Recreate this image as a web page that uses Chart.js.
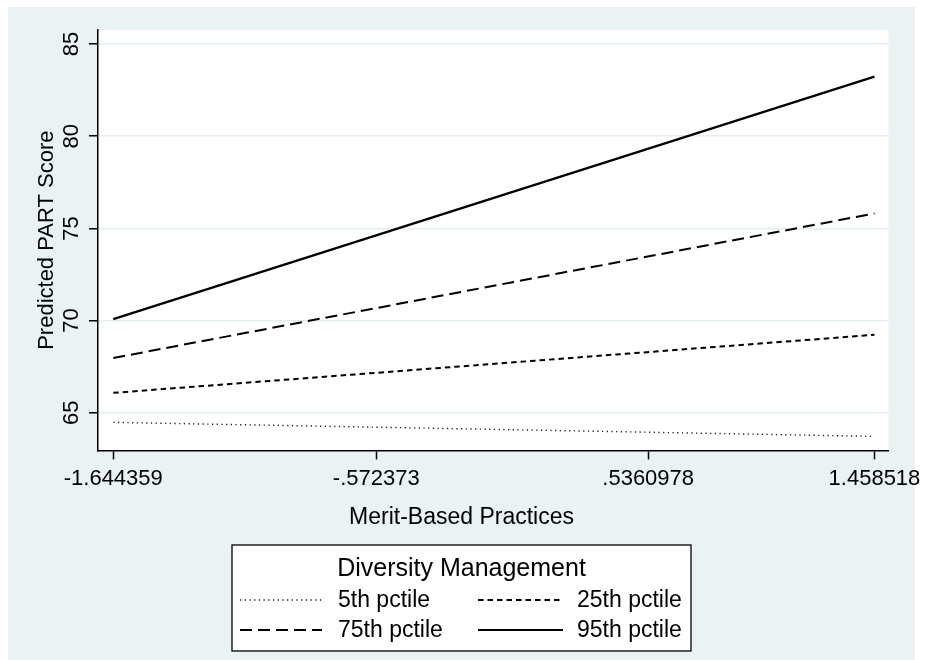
<!DOCTYPE html>
<html>
<head>
<meta charset="utf-8">
<script src="https://cdn.jsdelivr.net/npm/chart.js@4.4.1/dist/chart.umd.min.js"></script>
<style>
  html, body { margin: 0; padding: 0; background: #fff; }
  #wrap { width: 927px; height: 660px; }
</style>
</head>
<body>
<div id="wrap"><canvas id="c" width="927" height="660"></canvas></div>
<script>
// values (margins at the two ends of the x range)
const xValues = [-1.644359, 1.458518];
const xTicks = [-1.644359, -0.572373, 0.5360978, 1.458518];
const xTickLabels = ['-1.644359', '-.572373', '.5360978', '1.458518'];
const yTicks = [65, 70, 75, 80, 85];
const seriesNames = ['5th pctile', '25th pctile', '75th pctile', '95th pctile'];
const p5 = [64.48, 63.72];
const p25 = [66.08, 69.23];
const p75 = [67.97, 75.81];
const p95 = [70.08, 83.23];

const FONT = "'Liberation Sans', Arial, Helvetica, sans-serif";
Chart.defaults.font.family = FONT;
Chart.defaults.color = '#000';

const BG = '#EAF2F3';

function pts(vals) {
    return vals.map((v, i) => ({ x: xValues[i], y: v }));
}

const styles = [
    { borderDash: [1.3, 3.4], borderWidth: 1.4, borderColor: '#222' },
    { borderDash: [5.5, 4], borderWidth: 2, borderColor: '#000' },
    { borderDash: [12, 6], borderWidth: 2, borderColor: '#000' },
    { borderDash: [], borderWidth: 2.2, borderColor: '#000' }
];

const datasets = [p5, p25, p75, p95].map((vals, i) => Object.assign({
    label: seriesNames[i],
    data: pts(vals),
    pointRadius: 0,
    tension: 0,
    fill: false
}, styles[i]));

// graph region + white plot region, Stata s2color style
const bgPlugin = {
    id: 'stataBg',
    beforeDraw(chart) {
        const { ctx, chartArea: a } = chart;
        ctx.save();
        ctx.fillStyle = '#fff';
        ctx.fillRect(0, 0, chart.width, chart.height);
        ctx.fillStyle = BG;
        ctx.fillRect(8, 7, 907, 653);
        ctx.fillStyle = '#fff';
        ctx.fillRect(a.left, a.top, a.right - a.left, a.bottom - a.top);
        ctx.restore();
    }
};

// boxed legend with title, two columns
const keyPlugin = {
    id: 'stataKey',
    afterDraw(chart) {
        const ctx = chart.ctx;
        const box = { left: 232, top: 545, right: 691, bottom: 651 };
        ctx.save();
        ctx.fillStyle = '#fff';
        ctx.fillRect(box.left, box.top, box.right - box.left, box.bottom - box.top);
        ctx.strokeStyle = '#000';
        ctx.lineWidth = 1.3;
        ctx.strokeRect(box.left, box.top, box.right - box.left, box.bottom - box.top);

        ctx.fillStyle = '#000';
        ctx.textBaseline = 'middle';
        ctx.textAlign = 'center';
        ctx.font = '25px ' + FONT;
        ctx.fillText('Diversity Management', (box.left + box.right) / 2, 569);

        ctx.font = '23px ' + FONT;
        ctx.textAlign = 'left';
        chart.data.datasets.forEach((ds, i) => {
            const col = i % 2, row = Math.floor(i / 2);
            const x0 = col ? 478 : 240;
            const x1 = col ? 563 : 322;
            const y = row ? 630 : 600;
            ctx.save();
            ctx.setLineDash(ds.borderDash || []);
            ctx.lineWidth = ds.borderWidth;
            ctx.strokeStyle = ds.borderColor;
            ctx.beginPath();
            ctx.moveTo(x0, y);
            ctx.lineTo(x1, y);
            ctx.stroke();
            ctx.restore();
            ctx.fillText(ds.label, col ? 577 : 338, y + 1);
        });
        ctx.restore();
    }
};

new Chart(document.getElementById('c'), {
    type: 'line',
    data: { datasets },
    plugins: [bgPlugin, keyPlugin],
    options: {
        responsive: false,
        animation: false,
        devicePixelRatio: 1,
        layout: { padding: { left: 8, right: 12, top: 30, bottom: 0 } },
        plugins: {
            legend: { display: false },
            tooltip: { enabled: false },
            title: {
                display: true,
                position: 'bottom',
                text: 'Merit-Based Practices',
                color: '#000',
                font: { size: 23, weight: 'normal', family: FONT },
                padding: { top: 4, bottom: 129 }
            }
        },
        scales: {
            x: {
                type: 'linear',
                min: -1.7066,
                max: 1.5155,
                afterBuildTicks: s => { s.ticks = xTicks.map(v => ({ value: v })); },
                afterFit: s => { s.height = 49; },
                ticks: {
                    autoSkip: false,
                    maxRotation: 0,
                    padding: 6,
                    font: { size: 22 },
                    color: '#000',
                    callback: (v, i) => xTickLabels[i]
                },
                grid: {
                    drawOnChartArea: false,
                    tickLength: 9,
                    tickColor: '#000',
                    tickWidth: 1.5
                },
                border: { color: '#000', width: 1.5 }
            },
            y: {
                type: 'linear',
                min: 62.96,
                max: 85.76,
                afterBuildTicks: s => { s.ticks = yTicks.map(v => ({ value: v })); },
                afterFit: s => { s.width = 90; },
                ticks: {
                    minRotation: 90,
                    maxRotation: 90,
                    crossAlign: 'center',
                    padding: 5,
                    font: { size: 22 },
                    color: '#000'
                },
                grid: {
                    color: '#E4EDEF',
                    lineWidth: 1.5,
                    tickLength: 9,
                    tickColor: '#000',
                    tickWidth: 1.5
                },
                border: { color: '#000', width: 1.5 },
                title: {
                    display: true,
                    text: 'Predicted PART Score',
                    color: '#000',
                    font: { size: 22 },
                    padding: { top: 26 }
                }
            },
            // empty right gutter so the x title centres on the whole graph
            gutter: {
                position: 'right',
                display: true,
                ticks: { display: false },
                grid: { display: false },
                border: { display: false },
                afterFit: s => { s.width = 25; }
            }
        }
    }
});
</script>
</body>
</html>
